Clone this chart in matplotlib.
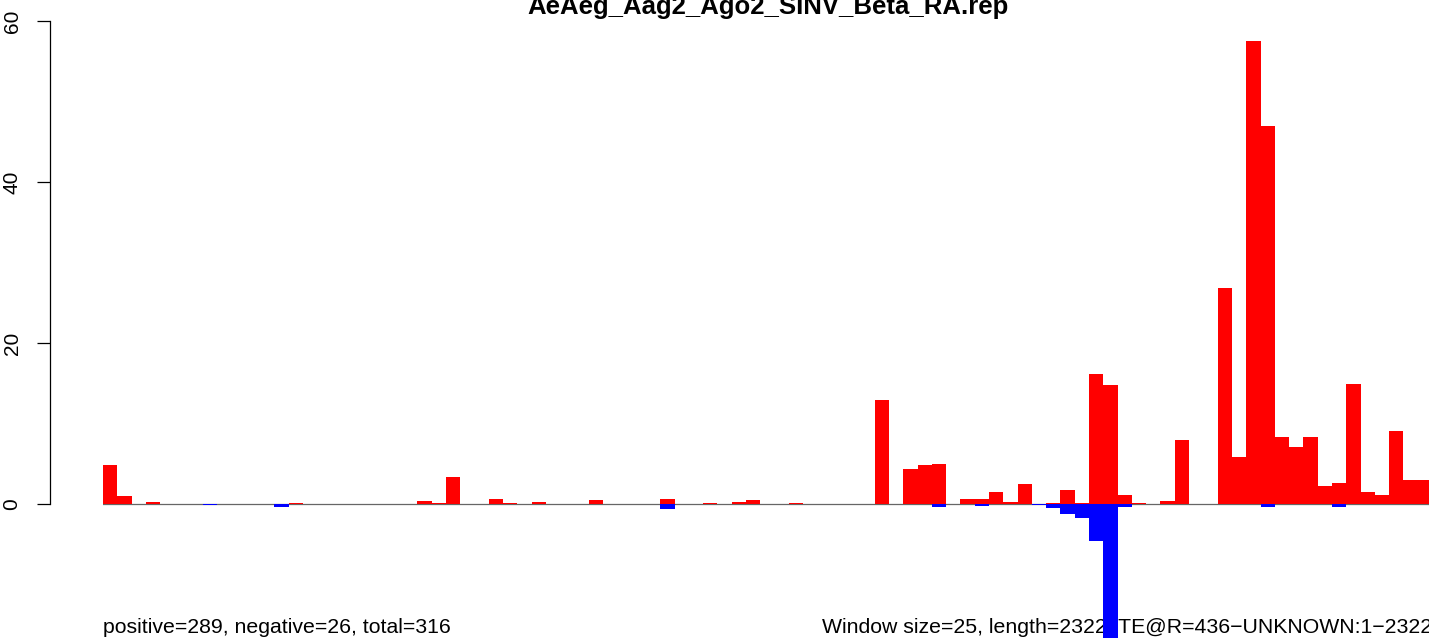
import numpy as np
import matplotlib
matplotlib.use("Agg")
import matplotlib.pyplot as plt

plt.rcParams['font.family'] = ['Liberation Sans', 'DejaVu Sans']

title = "AeAeg_Aag2_Ago2_SINV_Beta_RA.rep"
left_note = "positive=289, negative=26, total=316"
right_note = "Window size=25, length=2322, TE@R=436\u2212UNKNOWN:1\u22122322"

n_windows = 93
# window index -> value
pos_values = {0: 4.9, 1: 1.0, 3: 0.3, 13: 0.1, 22: 0.37, 23: 0.12, 24: 3.35,
              27: 0.62, 28: 0.12, 30: 0.25, 34: 0.5, 39: 0.62, 42: 0.12,
              44: 0.25, 45: 0.5, 48: 0.12, 54: 12.9, 56: 4.35, 57: 4.84,
              58: 4.97, 60: 0.62, 61: 0.62, 62: 1.49, 63: 0.25, 64: 2.48,
              66: 0.12, 67: 1.74, 68: 0.12, 69: 16.15, 70: 14.8, 71: 1.12,
              72: 0.12, 74: 0.37, 75: 7.95, 78: 26.8, 79: 5.84, 80: 57.5,
              81: 46.96, 82: 8.32, 83: 7.08, 84: 8.32, 85: 2.24, 86: 2.61,
              87: 14.9, 88: 1.49, 89: 1.12, 90: 9.07, 91: 2.98, 92: 2.98}
neg_values = {7: -0.1, 12: -0.33, 39: -0.62, 58: -0.33, 61: -0.2, 65: -0.1,
              66: -0.45, 67: -1.24, 68: -1.7, 69: -4.6, 70: -16.6, 71: -0.33,
              81: -0.33, 86: -0.33}
yticks = [0, 20, 40, 60]

pos = np.zeros(n_windows)
neg = np.zeros(n_windows)
for k, v in pos_values.items():
    pos[k] = v
for k, v in neg_values.items():
    neg[k] = v
x = np.arange(n_windows)

W, H = 1429, 643
fig = plt.figure(figsize=(W / 100, H / 100), dpi=100)
# plot region from px 103 to 1432 (runs past the right edge), full height
ax = fig.add_axes([103 / W, 0, (1432 - 103) / W, 1])
ax.set_xlim(0, n_windows)
ppu = (504 - 21) / 60.0
ax.set_ylim(-(H - 504) / ppu, 504 / ppu)

ax.axhline(0, color='#666666', lw=0.9, zorder=1)
ax.bar(x, pos, width=1.0, align='edge', color='#ff0000', lw=0, zorder=3)
ax.bar(x, neg, width=1.0, align='edge', color='#0000ff', lw=0, zorder=4)

for s in ['top', 'right', 'bottom']:
    ax.spines[s].set_visible(False)
ax.spines['left'].set_position(('outward', 53 * 0.72))
ax.spines['left'].set_bounds(0, 60)
ax.spines['left'].set_linewidth(0.9)
ax.set_xticks([])
ax.set_yticks(yticks)
ax.set_yticklabels([str(t) for t in yticks])
ax.tick_params(axis='y', length=9.5, width=0.9, pad=11, labelsize=15,
               labelrotation=90)
for lab in ax.get_yticklabels():
    lab.set_va('center')

ax.text(0.5, (H - 14) / H, title, transform=ax.transAxes, ha='center',
        va='baseline', fontsize=18.5, fontweight='bold', clip_on=False)
ax.text(0, (H - 633) / H, left_note, transform=ax.transAxes, ha='left',
        va='baseline', fontsize=15.3, zorder=2, clip_on=False)
ax.text(1, (H - 633) / H, right_note, transform=ax.transAxes, ha='right',
        va='baseline', fontsize=15.3, zorder=2, clip_on=False)

fig.savefig('out.png', dpi=100)
